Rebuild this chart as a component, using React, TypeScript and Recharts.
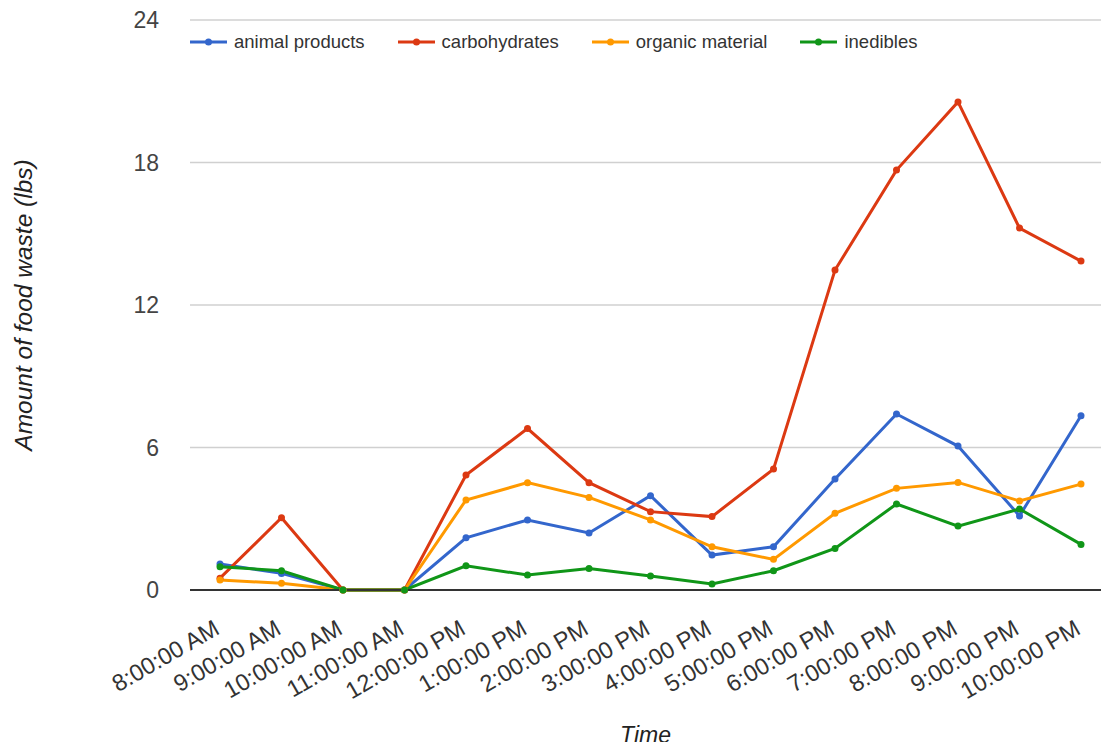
import React from 'react';
import {
  LineChart,
  Line,
  XAxis,
  YAxis,
  CartesianGrid,
  Legend,
} from 'recharts';

const times = [
  '8:00:00 AM',
  '9:00:00 AM',
  '10:00:00 AM',
  '11:00:00 AM',
  '12:00:00 PM',
  '1:00:00 PM',
  '2:00:00 PM',
  '3:00:00 PM',
  '4:00:00 PM',
  '5:00:00 PM',
  '6:00:00 PM',
  '7:00:00 PM',
  '8:00:00 PM',
  '9:00:00 PM',
  '10:00:00 PM',
];

const animalProducts = [1.1, 0.7, 0, 0, 2.2, 2.95, 2.4, 3.97, 1.47, 1.82, 4.67, 7.41, 6.06, 3.12, 7.34];
const carbohydrates = [0.5, 3.04, 0, 0, 4.84, 6.8, 4.52, 3.3, 3.09, 5.09, 13.47, 17.68, 20.55, 15.24, 13.85];
const organicMaterial = [0.42, 0.28, 0, 0, 3.79, 4.52, 3.9, 2.95, 1.82, 1.29, 3.23, 4.28, 4.53, 3.75, 4.46];
const inedibles = [0.98, 0.81, 0, 0, 1.02, 0.63, 0.91, 0.59, 0.25, 0.81, 1.75, 3.62, 2.69, 3.41, 1.92];

const yTicks = [0, 6, 12, 18, 24];

const series = [
  { key: 'animal', name: 'animal products', color: '#3366cc' },
  { key: 'carbs', name: 'carbohydrates', color: '#dc3912' },
  { key: 'organic', name: 'organic material', color: '#ff9900' },
  { key: 'inedible', name: 'inedibles', color: '#109618' },
];

const data = times.map((t, i) => ({
  time: t,
  animal: animalProducts[i],
  carbs: carbohydrates[i],
  organic: organicMaterial[i],
  inedible: inedibles[i],
}));

const FONT = '"Liberation Sans", Arial, sans-serif';

const XTick = (props: any) => {
  const { x, y, payload } = props;
  return (
    <g transform={`translate(${x + 1},${y + 35})`}>
      <text
        textAnchor="end"
        transform="rotate(-30)"
        fontSize={23.5}
        fill="#333"
        fontFamily={FONT}
      >
        {payload.value}
      </text>
    </g>
  );
};

const LegendContent = () => (
  <div style={{ display: 'flex', fontFamily: FONT, fontSize: 18.5, color: '#333' }}>
    {series.map((s) => (
      <div key={s.key} style={{ display: 'flex', alignItems: 'center', marginRight: 33 }}>
        <svg width={37} height={10} style={{ marginRight: 7 }}>
          <line x1={0} y1={5} x2={37} y2={5} stroke={s.color} strokeWidth={3} />
          <circle cx={18.5} cy={5} r={3.5} fill={s.color} />
        </svg>
        <span>{s.name}</span>
      </div>
    ))}
  </div>
);

const App = () => {
  return (
    <div style={{ position: 'absolute', left: 0, top: 0, background: '#fff' }}>
      <LineChart
        width={1101}
        height={742}
        data={data}
        margin={{ top: 20, right: 0, bottom: 0, left: 0 }}
      >
        <CartesianGrid vertical={false} stroke="#d0d0d0" strokeWidth={1.5} />
        <XAxis
          dataKey="time"
          height={152}
          padding={{ left: 30, right: 20 }}
          tickLine={false}
          axisLine={{ stroke: '#333', strokeWidth: 2 }}
          interval={0}
          tick={<XTick />}
          label={{
            value: 'Time',
            position: 'insideBottom',
            offset: 0,
            dy: 1,
            style: { fontSize: 23, fontStyle: 'italic', fill: '#222', fontFamily: FONT },
          }}
        />
        <YAxis
          width={190}
          domain={[0, 24]}
          ticks={yTicks}
          tickLine={false}
          axisLine={false}
          tickMargin={25}
          tick={{ fontSize: 23, fill: '#444', fontFamily: FONT }}
          label={{
            value: 'Amount of food waste (lbs)',
            angle: -90,
            position: 'center',
            dx: -72,
            style: { fontSize: 24.5, fontStyle: 'italic', fill: '#222', fontFamily: FONT, textAnchor: 'middle' },
          }}
        />
        <Legend
          layout="horizontal"
          verticalAlign="middle"
          align="center"
          content={<LegendContent />}
          wrapperStyle={{ top: 31, left: 190, width: 900 }}
        />
        {series.map((s) => (
          <Line
            key={s.key}
            type="linear"
            dataKey={s.key}
            name={s.name}
            stroke={s.color}
            strokeWidth={3}
            dot={{ r: 3.5, fill: s.color, stroke: s.color, strokeWidth: 0 }}
            activeDot={false}
            isAnimationActive={false}
          />
        ))}
      </LineChart>
    </div>
  );
};

export default App;
